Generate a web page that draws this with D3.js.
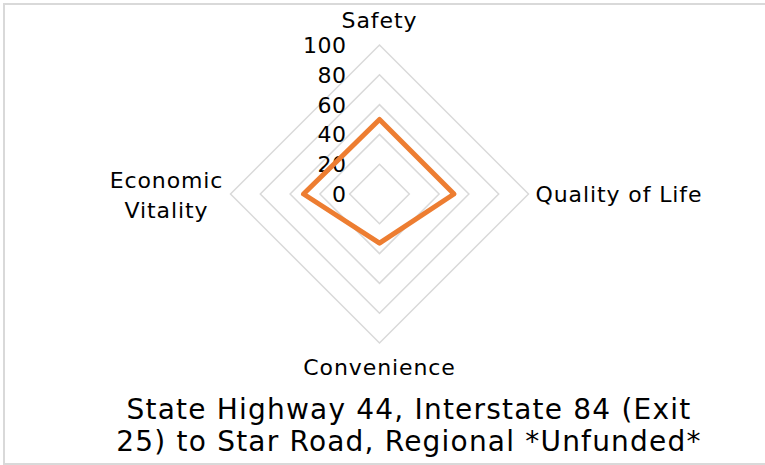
<!DOCTYPE html>
<html>
<head>
<meta charset="utf-8">
<script src="https://cdn.jsdelivr.net/npm/d3@7"></script>
<style>
  body { margin: 0; background: #fff; }
  text { font-family: "DejaVu Sans", Verdana, sans-serif; fill: #000; }
</style>
</head>
<body>
<div id="viz"></div>
<script>
// chart values:
const categories = ["Safety", "Quality of Life", "Convenience", "Economic Vitality"];
const scores = [50, 50, 33, 51];
const tickValues = [0, 20, 40, 60, 80, 100];
const titleLines = ["State Highway 44, Interstate 84 (Exit", "25) to Star Road, Regional *Unfunded*"];

let width = 765, height = 465;
let cx = 379.5, cy = 194, radius = 149;

let svg = d3.select("#viz")
  .append("svg")
    .attr("width", width)
    .attr("height", height);

// chart area border (light grey, like the Excel frame)
svg.append("rect")
  .attr("x", 4)
  .attr("y", 4)
  .attr("width", width + 10)
  .attr("height", height - 5)
  .attr("fill", "none")
  .attr("stroke", "#d9d9d9")
  .attr("stroke-width", 2);

let rScale = d3.scaleLinear()
  .domain([0, 100])
  .range([0, radius]);

// angle per category, starting at the top, going clockwise
let angle = (i) => i * 2 * Math.PI / categories.length;

let plot = svg.append("g")
  .attr("transform", "translate(" + cx + "," + cy + ")");

let radarLine = d3.lineRadial()
  .angle((d, i) => angle(i))
  .radius(d => rScale(d))
  .curve(d3.curveLinearClosed);

// grid rings (0 ring is the centre point, so skip it)
plot.selectAll(".ring")
  .data(tickValues.filter(t => t > 0))
  .enter()
  .append("path")
    .attr("class", "ring")
    .attr("d", t => radarLine(categories.map(() => t)))
    .attr("fill", "none")
    .attr("stroke", "#d9d9d9")
    .attr("stroke-width", 1.5);

// value labels along the vertical axis
plot.selectAll(".tick-label")
  .data(tickValues)
  .enter()
  .append("text")
    .attr("class", "tick-label")
    .attr("x", -33)
    .attr("y", t => -rScale(t))
    .attr("dy", "0.36em")
    .attr("text-anchor", "end")
    .style("font-size", "22px")
    .style("letter-spacing", "0.5px")
    .text(t => t);

// the data series
plot.append("path")
  .datum(scores)
  .attr("d", radarLine)
  .attr("fill", "none")
  .attr("stroke", "#ed7d31")
  .attr("stroke-width", 5)
  .attr("stroke-linejoin", "round");

// category labels
let catPos = [
  {x: 0, y: -radius - 25, anchor: "middle", lines: ["Safety"]},
  {x: radius + 7, y: 0, anchor: "start", lines: ["Quality of Life"]},
  {x: 0, y: radius + 24, anchor: "middle", lines: ["Convenience"]},
  {x: -radius - 64, y: -14, anchor: "middle", lines: ["Economic", "Vitality"]}
];
categories.forEach((c, i) => {
  let p = catPos[i];
  let t = plot.append("text")
    .attr("text-anchor", p.anchor)
    .style("font-size", "22px")
    .style("letter-spacing", "0.9px");
  p.lines.forEach((ln, j) => {
    t.append("tspan")
      .attr("x", p.x)
      .attr("y", p.y + j * 30)
      .attr("dy", "0.36em")
      .text(ln);
  });
});

// title below the chart
svg.append("g")
  .selectAll("text")
  .data(titleLines)
  .enter()
  .append("text")
    .attr("x", 409)
    .attr("y", (d, i) => 419 + i * 32)
    .attr("text-anchor", "middle")
    .style("font-size", "28px")
    .style("letter-spacing", "1.2px")
    .text(d => d);
</script>
</body>
</html>
